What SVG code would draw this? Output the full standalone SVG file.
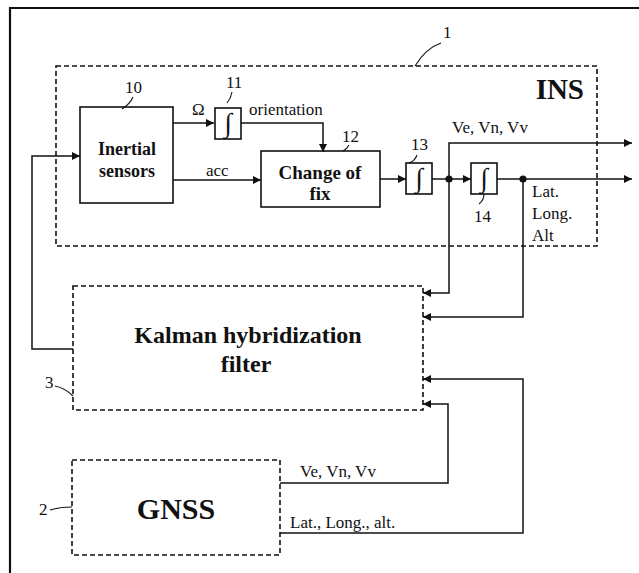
<svg xmlns="http://www.w3.org/2000/svg" width="639" height="573" viewBox="0 0 639 573">
<style>
text{font-family:"Liberation Serif","Times New Roman","DejaVu Serif",serif;fill:#111}
.lbl{font-size:17px}
.b{font-weight:bold}
.box{fill:none;stroke:#111;stroke-width:1.6}
.dash{fill:none;stroke:#111;stroke-width:1.6;stroke-dasharray:5 3}
.ln{fill:none;stroke:#111;stroke-width:1.5}
.ld{fill:none;stroke:#111;stroke-width:1.1}
.int{font-size:27px}
</style>
<defs>
<marker id="ah" viewBox="0 0 10 10" refX="10" refY="5" markerUnits="userSpaceOnUse" markerWidth="10" markerHeight="8" orient="auto">
<path d="M0,0 L10,5 L0,10 z" fill="#111"/>
</marker>
</defs>
<rect width="639" height="573" fill="#fff"/>
<path d="M10,573 V8 H639" fill="none" stroke="#111" stroke-width="2.2"/>

<g id="ins">
<rect class="dash" x="56" y="66" width="541" height="180"/>
<text x="584" y="99" text-anchor="end" class="b" style="font-size:29px">INS</text>
<text x="443" y="38" class="lbl">1</text>
<path class="ld" d="M415,66 Q426,48 441,43"/>
</g>

<g id="n10">
<rect class="box" x="80" y="107" width="93" height="96"/>
<text x="127" y="155" text-anchor="middle" class="b" style="font-size:18px">Inertial</text>
<text x="127" y="177" text-anchor="middle" class="b" style="font-size:18px">sensors</text>
<text x="125" y="93" class="lbl">10</text>
<path class="ld" d="M122,109 Q130,104 133,97"/>
</g>

<g id="n11">
<rect class="box" x="215" y="108" width="26" height="31"/>
<text x="228" y="132" text-anchor="middle" class="int">∫</text>
<text x="226" y="88" class="lbl">11</text>
<path class="ld" d="M227,103 Q231,98 232,92"/>
</g>

<g id="n12">
<rect class="box" x="261" y="151" width="119" height="56"/>
<text x="320" y="179" text-anchor="middle" class="b" style="font-size:19px">Change of</text>
<text x="320" y="200" text-anchor="middle" class="b" style="font-size:19px">fix</text>
<text x="342" y="142" class="lbl">12</text>
<path class="ld" d="M343,151 Q347,149 349,145"/>
</g>

<g id="n13">
<rect class="box" x="406" y="163" width="26" height="31"/>
<text x="419" y="187" text-anchor="middle" class="int">∫</text>
<text x="411" y="150" class="lbl">13</text>
<path class="ld" d="M409,163 Q415,161 417,155"/>
</g>

<g id="n14">
<rect class="box" x="471" y="163" width="26" height="31"/>
<text x="484" y="187" text-anchor="middle" class="int">∫</text>
<text x="474" y="222" class="lbl">14</text>
<path class="ld" d="M484,194 Q484,200 479,204"/>
</g>

<g id="n3">
<rect class="dash" x="73" y="286" width="350" height="124"/>
<text x="248" y="343" text-anchor="middle" class="b" style="font-size:24px">Kalman hybridization</text>
<text x="246" y="372" text-anchor="middle" class="b" style="font-size:24px">filter</text>
<text x="45" y="388" class="lbl">3</text>
<path class="ld" d="M55,386 Q65,388 73,396"/>
</g>

<g id="n2">
<rect class="dash" x="72" y="460" width="208" height="95"/>
<text x="176" y="519" text-anchor="middle" class="b" style="font-size:30px">GNSS</text>
<text x="39" y="515" class="lbl">2</text>
<path class="ld" d="M50,510 Q60,507 72,507"/>
</g>

<g id="connectors">
<path class="ln" d="M173,123 H214" marker-end="url(#ah)"/>
<path class="ln" d="M241,123 H323 V152" marker-end="url(#ah)"/>
<path class="ln" d="M173,180 H261" marker-end="url(#ah)"/>
<path class="ln" d="M380,179 H406" marker-end="url(#ah)"/>
<path class="ln" d="M432,179 H471" marker-end="url(#ah)"/>
<path class="ln" d="M497,179 H632" marker-end="url(#ah)"/>
<path class="ln" d="M449,179 V143 H632" marker-end="url(#ah)"/>
<path class="ln" d="M449,179 V293 H423" marker-end="url(#ah)"/>
<path class="ln" d="M523,179 V317 H423" marker-end="url(#ah)"/>
<path class="ln" d="M280,483 H448 V404 H423" marker-end="url(#ah)"/>
<path class="ln" d="M280,533 H523 V379 H423" marker-end="url(#ah)"/>
<path class="ln" d="M73,349 H32 V156 H80" marker-end="url(#ah)"/>
<circle cx="449" cy="179" r="3.6" fill="#111"/>
<circle cx="523" cy="179" r="3.6" fill="#111"/>
<text x="192" y="115" class="lbl">Ω</text>
<text x="249" y="115" class="lbl">orientation</text>
<text x="206" y="176" class="lbl">acc</text>
<text x="452" y="133" class="lbl">Ve, Vn, Vv</text>
<text x="532" y="197" class="lbl">Lat.</text>
<text x="532" y="219" class="lbl">Long.</text>
<text x="532" y="241" class="lbl">Alt</text>
<text x="300" y="477" class="lbl">Ve, Vn, Vv</text>
<text x="290" y="528" class="lbl">Lat., Long., alt.</text>
</g>
</svg>
